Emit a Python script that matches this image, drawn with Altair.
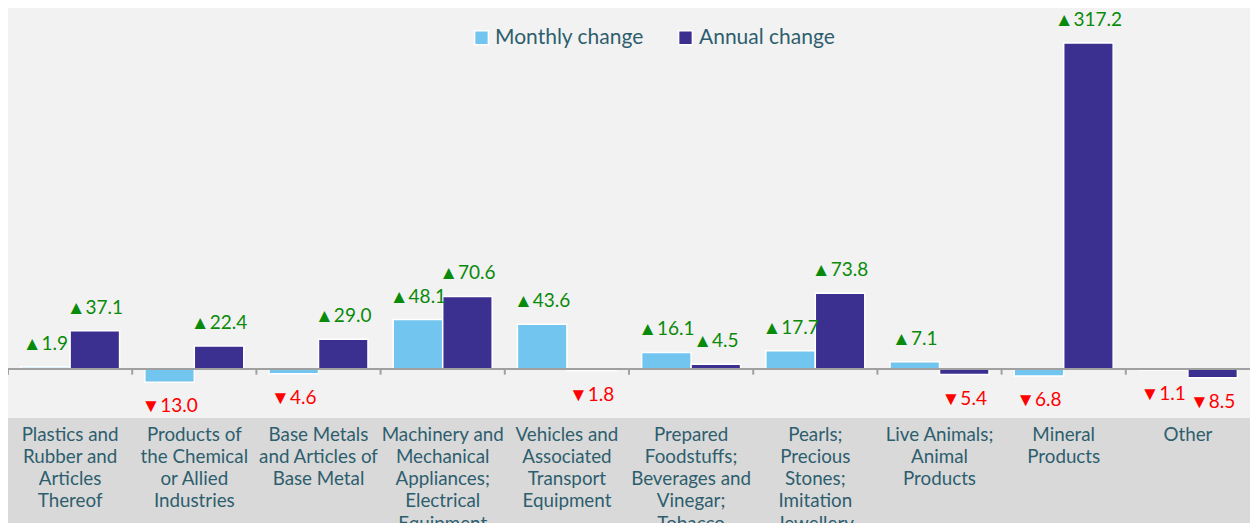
import altair as alt
import pandas as pd

categories = [
    "Plastics and|Rubber and|Articles|Thereof",
    "Products of|the Chemical|or Allied|Industries",
    "Base Metals|and Articles of|Base Metal",
    "Machinery and|Mechanical|Appliances;|Electrical|Equipment",
    "Vehicles and|Associated|Transport|Equipment",
    "Prepared|Foodstuffs;|Beverages and|Vinegar;|Tobacco",
    "Pearls;|Precious|Stones;|Imitation|Jewellery",
    "Live Animals;|Animal|Products",
    "Mineral|Products",
    "Other",
]
series = ["Monthly change", "Annual change"]
monthly = [1.9, -13.0, -4.6, 48.1, 43.6, 16.1, 17.7, 7.1, -6.8, -1.1]
annual = [37.1, 22.4, 29.0, 70.6, -1.8, 4.5, 73.8, -5.4, 317.2, -8.5]
colors = ["#72c5ef", "#3b2f8f"]

rows = []
for c, m, a in zip(categories, monthly, annual):
    rows.append({"cat": c, "series": series[0], "value": m})
    rows.append({"cat": c, "series": series[1], "value": a})
df = pd.DataFrame(rows)
df["label"] = [("▲" if v >= 0 else "▼") + f"{abs(v):.1f}" for v in df["value"]]

W, H = 1242, 410
FONT = "Lato"
YDOM = [-47.7, 351.3]

xscale = alt.Scale(paddingInner=0, paddingOuter=0)
xaxis = alt.Axis(title=None, orient="bottom", domain=False, ticks=False,
                 labelAngle=0, labelFontSize=18.8, labelFont=FONT,
                 labelColor="#2e5e6e", labelLineHeight=22.3,
                 labelPadding=7, labelOverlap=False, labelLimit=300,
                 labelBaseline="top",
                 labelExpr="split(datum.label, '|')")
xenc = alt.X("cat:N", sort=categories, scale=xscale, axis=xaxis)
xoff = alt.XOffset("series:N", sort=series, scale=alt.Scale(paddingInner=0, paddingOuter=0.255))
yenc = alt.Y("value:Q", scale=alt.Scale(domain=YDOM, nice=False, zero=False), axis=None)

base = alt.Chart(df)

bars = base.mark_bar(stroke="white", strokeWidth=1.5).encode(
    x=xenc,
    xOffset=xoff,
    y=yenc,
    color=alt.Color("series:N", scale=alt.Scale(domain=series, range=colors),
                    legend=alt.Legend(title=None, orient="none", direction="horizontal",
                                      legendX=463, legendY=19, symbolType="square",
                                      symbolSize=190, symbolStrokeColor="white",
                                      symbolStrokeWidth=1.5, symbolOpacity=1,
                                      labelFontSize=21, labelFont=FONT,
                                      labelColor="#2e5e6e", columnPadding=31,
                                      labelOffset=3)),
)

pos_text = base.transform_filter(alt.datum.value >= 0).mark_text(
    dy=-23, baseline="middle", fontSize=19, font=FONT, color="#0a8a0a"
).encode(x=xenc, xOffset=xoff, y=yenc, text="label:N")

neg_text = base.transform_filter(alt.datum.value < 0).mark_text(
    dy=24, baseline="middle", fontSize=19, font=FONT, color="#ff0000"
).encode(x=xenc, xOffset=xoff, y=yenc, text="label:N")

zero_line = alt.Chart(pd.DataFrame({"value": [0]})).mark_rule(color="#a0a0a0", strokeWidth=2).encode(
    y=yenc,
    x=alt.value(0), x2=alt.value(W),
)

tick_df = pd.DataFrame({"cat": categories, "value": [0] * len(categories), "b": [-5.5] * len(categories)})
ticks = alt.Chart(tick_df).mark_rule(color="#a0a0a0", strokeWidth=2).encode(
    x=alt.X("cat:N", sort=categories, scale=xscale, bandPosition=0, axis=xaxis),
    y=yenc,
    y2="b:Q",
)

chart = alt.layer(bars, zero_line, ticks, pos_text, neg_text).properties(
    width=W, height=H,
    autosize=alt.AutoSizeParams(type="none"),
    padding={"left": 0, "top": 0, "right": 0, "bottom": 105},
    background="#d9d9d9",
).configure_view(fill="#f2f2f2", stroke=None)

chart.save("out.html", embed_options={"renderer": "svg", "actions": False})
